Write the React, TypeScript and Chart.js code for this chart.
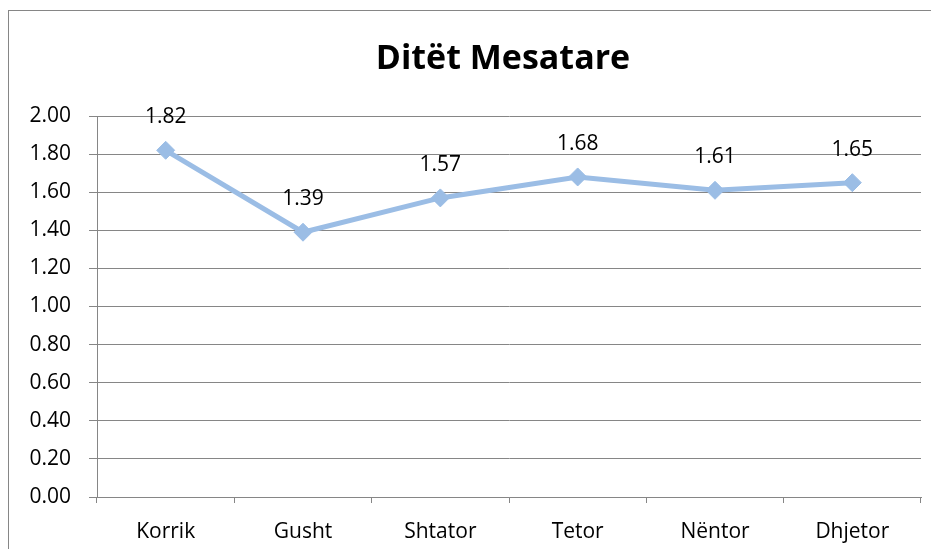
import React, { useEffect, useRef } from "react";
import { Chart, registerables } from "chart.js";

Chart.register(...registerables);

const TITLE = "Ditët Mesatare";
const categories = ["Korrik", "Gusht", "Shtator", "Tetor", "Nëntor", "Dhjetor"];
const values = [1.82, 1.39, 1.57, 1.68, 1.61, 1.65];
const yMin = 0;
const yMax = 2;
const yStep = 0.2;

const FONT = "'Open Sans', 'Liberation Sans', sans-serif";
const GRID = "#868686";
const LINE = "#9BBDE5";

export default function App() {
  const ref = useRef<HTMLCanvasElement | null>(null);

  useEffect(() => {
    if (!ref.current) return;
    const decor = {
      id: "decor",
      beforeDraw(chart: any) {
        const ctx = chart.ctx;
        ctx.save();
        ctx.strokeStyle = GRID;
        ctx.lineWidth = 1;
        ctx.strokeRect(0.5, 2.5, 3000, 3000);
        ctx.restore();
      },
      afterDraw(chart: any) {
        const ctx = chart.ctx;
        ctx.save();
        ctx.fillStyle = "#000";
        ctx.font = `bold 34px ${FONT}`;
        ctx.textAlign = "center";
        ctx.textBaseline = "alphabetic";
        ctx.fillText(TITLE, 495, 61);
        ctx.font = `21px ${FONT}`;
        const meta = chart.getDatasetMeta(0);
        meta.data.forEach((pt: any, i: number) => {
          ctx.fillText(values[i].toFixed(2), pt.x, pt.y - 27);
        });
        ctx.restore();
      },
    };

    const chart = new Chart(ref.current, {
      type: "line",
      data: {
        labels: categories,
        datasets: [
          {
            data: values,
            borderColor: LINE,
            backgroundColor: LINE,
            borderWidth: 5,
            pointStyle: "rectRot",
            pointRadius: 9,
            pointBorderWidth: 1,
            pointBorderColor: LINE,
            pointBackgroundColor: LINE,
            tension: 0,
          },
        ],
      },
      options: {
        responsive: false,
        animation: false,
        layout: { padding: { top: 108, right: 9.3, left: 0, bottom: 0 } },
        plugins: {
          legend: { display: false },
          title: { display: false },
          tooltip: { enabled: false },
        },
        scales: {
          x: {
            offset: true,
            afterFit(scale: any) {
              scale.height = 52;
            },
            grid: {
              offset: true,
              drawOnChartArea: true,
              color: (c: any) => (c.index === categories.length ? GRID : "transparent"),
              tickColor: GRID,
              tickLength: 6,
              drawTicks: true,
            },
            border: { display: true, color: GRID },
            ticks: {
              color: "#000",
              font: { family: FONT, size: 21 },
              padding: 16,
              maxRotation: 0,
            },
          },
          y: {
            min: yMin,
            max: yMax,
            afterFit(scale: any) {
              scale.width = 89;
            },
            grid: {
              color: GRID,
              tickColor: GRID,
              tickLength: 8,
              drawTicks: true,
            },
            border: { display: true, color: GRID },
            ticks: {
              stepSize: yStep,
              color: "#000",
              font: { family: FONT, size: 21 },
              padding: 18,
              callback: (v: any) => Number(v).toFixed(2),
            },
          },
        },
      },
      plugins: [decor],
    });
    return () => chart.destroy();
  }, []);

  return (
    <div style={{ width: 923, height: 541 }}>
      <canvas ref={ref} width={923} height={541} style={{ display: "block", width: 923, height: 541 }} />
    </div>
  );
}
